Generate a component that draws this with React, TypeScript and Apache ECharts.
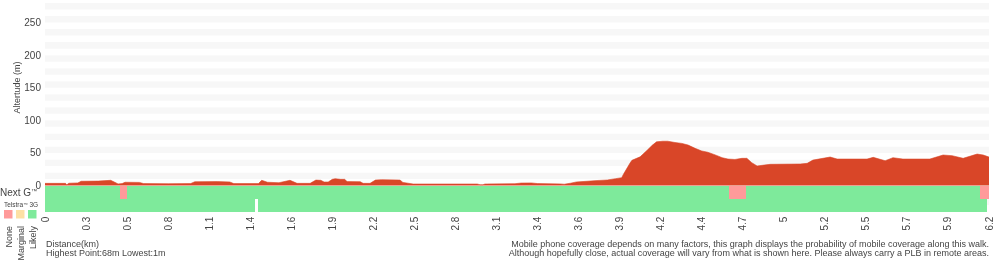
import React, { useEffect, useRef } from 'react';
import * as echarts from 'echarts';

// x positions are expressed in tick slots (0..23) of the distance axis
const distanceLabels = ['0', '0.3', '0.5', '0.8', '1.1', '1.4', '1.6', '1.9', '2.2', '2.5', '2.8', '3.1', '3.4', '3.6', '3.9', '4.2', '4.4', '4.7', '5', '5.2', '5.5', '5.7', '5.9', '6.2'];
const altitudeTicks = [0, 50, 100, 150, 200, 250];

const elevationProfile: [number, number][] = [
  [0, 3.3], [0.5, 3.3], [0.53, 1], [0.58, 3.5], [0.8, 4], [0.88, 6.5], [1.3, 6.8], [1.6, 8], [1.7, 5],
  [1.78, 2.5], [1.88, 3], [1.95, 5], [2.3, 4.8], [2.4, 3], [3.0, 2.8], [3.55, 3], [3.65, 5.8], [4.2, 6],
  [4.5, 5.5], [4.6, 3], [5.2, 3], [5.28, 8], [5.42, 5], [5.7, 4.3], [5.97, 8], [6.14, 3.3], [6.46, 3.3],
  [6.6, 8.4], [6.72, 8], [6.8, 5.4], [6.9, 5.4], [7.0, 9.5], [7.07, 10.5], [7.2, 9.5], [7.3, 9.5],
  [7.36, 6], [7.68, 5.9], [7.75, 3.3], [7.92, 3.3], [8.05, 8.4], [8.2, 9], [8.65, 8.4], [8.72, 4.8],
  [8.97, 2.3], [10.53, 2.3], [10.6, 1.3], [10.67, 1.3], [10.72, 2.3], [11.45, 2.8], [11.6, 3.8],
  [11.85, 4], [12.0, 3], [12.55, 2.5], [12.65, 2], [12.8, 3.5], [12.95, 5.5], [13.2, 6.5], [13.4, 7.5],
  [13.7, 8.5], [13.9, 10.5], [14.05, 12], [14.1, 18], [14.25, 34], [14.3, 38.6], [14.5, 44], [14.67, 54],
  [14.8, 62], [14.9, 67], [15.05, 68], [15.17, 68], [15.35, 66], [15.52, 64.6], [15.67, 62], [15.84, 57],
  [16.0, 53], [16.15, 51], [16.33, 47], [16.5, 42.7], [16.64, 40.6], [16.81, 40], [16.98, 41.7],
  [17.1, 41.7], [17.22, 35], [17.35, 30], [17.67, 32.5], [18.4, 33], [18.57, 34], [18.71, 39],
  [19.13, 43.7], [19.3, 40.6], [20.03, 40.6], [20.18, 43.2], [20.47, 38], [20.66, 42.7], [20.9, 40.6],
  [21.56, 40.6], [21.88, 46.8], [22.1, 45.8], [22.37, 41.7], [22.71, 48.3], [22.86, 46.8], [23, 43.7],
];

// [start, end, level]  level: 0 none, 1 marginal, 2 likely, -1 no data
const nextGCoverage: [number, number, number][] = [
  [0, 1.83, 2], [1.83, 2.0, 0], [2.0, 16.67, 2], [16.67, 17.08, 0], [17.08, 22.78, 2], [22.78, 23, 0],
];
const telstra3GCoverage: [number, number, number][] = [
  [0, 5.12, 2], [5.12, 5.2, -1], [5.2, 22.95, 2],
];
const legendLabels = ['None', 'Marginal', 'Likely'];
const levelColors = ['#ff9a9a', '#fde0a4', '#7eea9b'];
const noDataColor = '#ffffff';

const FONT = 'Helvetica, Arial, "Liberation Sans", sans-serif';
const TEXT = '#444';

export default function App() {
  const ref = useRef<HTMLDivElement>(null);
  useEffect(() => {
    if (!ref.current) return;
    const chart = echarts.init(ref.current, undefined, { renderer: 'svg' });
    const coverageData = [
      ...nextGCoverage.map(([s, e, l]) => [s, e, 0, -20, l]),
      ...telstra3GCoverage.map(([s, e, l]) => [s, e, -20, -40, l]),
    ];
    const legendX = [4, 16, 28];
    const graphic: any[] = [
      { type: 'text', x: 16.5, y: 87.5, rotation: Math.PI / 2, style: { text: 'Altertude (m)', fontSize: 9, fontFamily: FONT, fill: TEXT, align: 'center', verticalAlign: 'middle' } },
      { type: 'text', x: 0, y: 192.5, style: { text: 'Next G{tm|™}', fontSize: 10, fontFamily: FONT, fill: TEXT, align: 'left', verticalAlign: 'middle', rich: { tm: { fontSize: 6, fontFamily: FONT, fill: TEXT, padding: [0, 0, 4, 0] } } } },
      { type: 'text', x: 4, y: 204.5, style: { text: 'Telstra{tm|™} 3G', fontSize: 6.5, fontFamily: FONT, fill: TEXT, align: 'left', verticalAlign: 'middle', rich: { tm: { fontSize: 4.5, fontFamily: FONT, fill: TEXT } } } },
      ...legendX.map((x, i) => ({ type: 'rect', shape: { x, y: 210, width: 8.5, height: 8.5 }, style: { fill: levelColors[i] } })),
      ...legendX.map((x, i) => ({ type: 'text', x: x + 4.5, y: 226, rotation: Math.PI / 2, style: { text: legendLabels[i], fontSize: 9, fontFamily: FONT, fill: TEXT, align: 'right', verticalAlign: 'middle' } })),
      { type: 'text', x: 46, y: 244, style: { text: 'Distance(km)', fontSize: 9, fontFamily: FONT, fill: TEXT, align: 'left', verticalAlign: 'middle' } },
      { type: 'text', x: 46, y: 253, style: { text: 'Highest Point:68m Lowest:1m', fontSize: 9, fontFamily: FONT, fill: TEXT, align: 'left', verticalAlign: 'middle' } },
      { type: 'text', x: 989, y: 244, style: { text: 'Mobile phone coverage depends on many factors, this graph displays the probability of mobile coverage along this walk.', fontSize: 9, fontFamily: FONT, fill: TEXT, align: 'right', verticalAlign: 'middle' } },
      { type: 'text', x: 989, y: 253, style: { text: 'Although hopefully close, actual coverage will vary from what is shown here. Please always carry a PLB in remote areas.', fontSize: 9, fontFamily: FONT, fill: TEXT, align: 'right', verticalAlign: 'middle' } },
    ];
    chart.setOption({
      animation: false,
      grid: { left: 45, right: 11, top: 3, height: 208.6, containLabel: false },
      xAxis: {
        type: 'value', min: 0, max: distanceLabels.length - 1, interval: 1,
        axisLine: { show: false }, axisTick: { show: false }, splitLine: { show: false },
        axisLabel: {
          rotate: 90, margin: 5, fontSize: 10, fontFamily: FONT, color: TEXT,
          formatter: (v: number) => distanceLabels[Math.round(v)] ?? '',
        },
      },
      yAxis: {
        type: 'value', min: -40, max: 280, interval: 10,
        axisLine: { show: false }, axisTick: { show: false }, splitLine: { show: false },
        splitArea: { show: true, areaStyle: { color: ['#ffffff', '#f7f7f7'] } },
        axisLabel: {
          margin: 4, fontSize: 10, fontFamily: FONT, color: TEXT,
          formatter: (v: number) => (altitudeTicks.includes(v) ? String(v) : ''),
        },
      },
      series: [
        {
          type: 'line', data: elevationProfile, symbol: 'none', smooth: false,
          lineStyle: { width: 0.6, color: '#d94628' },
          areaStyle: { color: '#d94628', opacity: 1 },
          z: 3,
        },
        {
          type: 'custom', data: coverageData, z: 2,
          renderItem: (_p: any, api: any) => {
            const a = api.coord([api.value(0), api.value(2)]);
            const b = api.coord([api.value(1), api.value(3)]);
            const lvl = api.value(4);
            const x0 = Math.round(a[0]);
            const x1 = Math.round(b[0]);
            const y0 = Math.round(a[1]);
            const y1 = Math.round(b[1]);
            return {
              type: 'rect',
              shape: { x: x0, y: y0, width: x1 - x0, height: y1 - y0 },
              style: { fill: lvl < 0 ? noDataColor : levelColors[lvl] },
            };
          },
        },
      ],
      graphic,
    });
    return () => chart.dispose();
  }, []);
  return <div ref={ref} style={{ position: 'fixed', left: 0, top: 0, width: 1000, height: 260 }} />;
}
